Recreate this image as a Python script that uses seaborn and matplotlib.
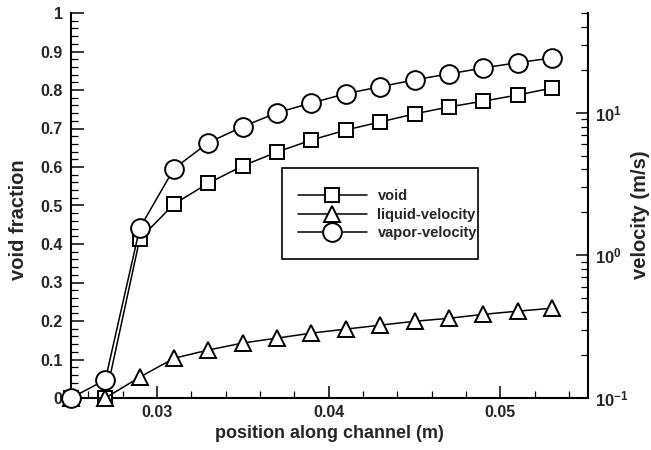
import numpy as np
import pandas as pd
import seaborn as sns
import matplotlib
matplotlib.use("Agg")
import matplotlib.pyplot as plt
from matplotlib.ticker import MultipleLocator, FuncFormatter, LogLocator, NullFormatter
from matplotlib.lines import Line2D
from matplotlib.patches import Rectangle

position = [0.025, 0.027, 0.029, 0.031, 0.033, 0.035, 0.037, 0.039,
            0.041, 0.043, 0.045, 0.047, 0.049, 0.051, 0.053]
void = [0.0, 0.0, 0.413, 0.504, 0.558, 0.603, 0.639, 0.670,
        0.696, 0.717, 0.738, 0.756, 0.771, 0.787, 0.805]
liquid_velocity = [0.1, 0.1, 0.140, 0.190, 0.217, 0.243, 0.263, 0.285,
                   0.304, 0.324, 0.345, 0.362, 0.386, 0.406, 0.426]
vapor_velocity = [0.1, 0.134, 1.55, 4.06, 6.17, 7.98, 10.0, 11.7,
                  13.6, 15.2, 17.0, 18.7, 20.6, 22.4, 24.2]
x_ticks = [0.03, 0.04, 0.05]
series_names = ["void", "liquid-velocity", "vapor-velocity"]

sns.set_style("ticks")
plt.rcParams['font.family'] = ['Liberation Sans', 'DejaVu Sans']
plt.rcParams['font.weight'] = 'bold'
plt.rcParams['mathtext.fontset'] = 'custom'
plt.rcParams['mathtext.rm'] = 'Liberation Sans:bold'
plt.rcParams['mathtext.bf'] = 'Liberation Sans:bold'
plt.rcParams['mathtext.it'] = 'Liberation Sans:bold'
plt.rcParams['mathtext.default'] = 'rm'

df = pd.DataFrame({"position": position, "void": void,
                   "liquid": liquid_velocity, "vapor": vapor_velocity})

W, H = 651, 450
fig = plt.figure(figsize=(W / 100, H / 100), dpi=100)
L, R, T, B = 71, 588, 13, 398
ax = fig.add_axes([L / W, 1 - B / H, (R - L) / W, (B - T) / H])
ax2 = ax.twinx()

common = dict(color="black", linewidth=1.1, markerfacecolor="white",
              markeredgecolor="black", markeredgewidth=1.4, clip_on=False)

sns.lineplot(data=df, x="position", y="void", marker="s", markersize=9.5,
             ax=ax, **common)
sns.lineplot(data=df, x="position", y="liquid", marker="^", markersize=11,
             ax=ax2, **common)
sns.lineplot(data=df, x="position", y="vapor", marker="o", markersize=13.5,
             ax=ax2, **common)

ax.set_xlim(0.025, 0.0551)
ax.set_ylim(0, 1)
ax2.set_yscale("log")
ax2.set_ylim(0.1, 50)

ax.xaxis.set_major_locator(plt.FixedLocator(x_ticks))
ax.xaxis.set_minor_locator(MultipleLocator(0.002))
ax.yaxis.set_major_locator(MultipleLocator(0.1))
ax.yaxis.set_minor_locator(MultipleLocator(0.02))
fmt = FuncFormatter(lambda v, p: f"{v:g}")
ax.xaxis.set_major_formatter(fmt)
ax.yaxis.set_major_formatter(fmt)

ax2.yaxis.set_major_locator(LogLocator(base=10, numticks=10))
ax2.yaxis.set_minor_locator(LogLocator(base=10, subs=np.arange(2, 10), numticks=10))
ax2.yaxis.set_minor_formatter(NullFormatter())
ax2.yaxis.set_major_formatter(FuncFormatter(lambda v, p: r"$10^{%d}$" % int(round(np.log10(v)))))

for a in (ax, ax2):
    a.tick_params(which="major", direction="in", length=9, width=1.1,
                  labelsize=11.5, color="black")
    a.tick_params(which="minor", direction="in", length=5, width=0.9, color="black")
    for s in a.spines.values():
        s.set_linewidth(1.5)
        s.set_color("black")
    a.spines["top"].set_visible(False)
ax.spines["right"].set_visible(False)
ax2.spines["left"].set_visible(False)
ax2.spines["bottom"].set_visible(False)
ax.tick_params(axis="x", pad=5)
ax.tick_params(axis="y", pad=6)
ax2.tick_params(axis="y", pad=5, labelsize=12)

for lbl in ax.get_xticklabels() + ax.get_yticklabels() + ax2.get_yticklabels():
    lbl.set_fontweight("bold")

ax.set_xlabel("")
ax.set_ylabel("")
ax2.set_ylabel("")
fig.text((L + R) / 2 / W + 0.0, 1 - 434 / H, "position along channel (m)",
         fontsize=13, fontweight="bold", ha="center", va="center")
fig.text(19 / W, 1 - 220 / H, "void fraction", rotation=90,
         fontsize=14.5, fontweight="bold", ha="center", va="center")
fig.text(641 / W, 1 - 215 / H, "velocity (m/s)", rotation=90,
         fontsize=14.5, fontweight="bold", ha="center", va="center")

handles = [
    Line2D([], [], color="black", lw=1.1, marker="s", markersize=9.5,
           markerfacecolor="white", markeredgewidth=1.4),
    Line2D([], [], color="black", lw=1.1, marker="^", markersize=11,
           markerfacecolor="white", markeredgewidth=1.4),
    Line2D([], [], color="black", lw=1.1, marker="o", markersize=13.5,
           markerfacecolor="white", markeredgewidth=1.4),
]
leg = ax2.legend(handles, series_names, loc="upper left",
                 bbox_to_anchor=((298 - L) / (R - L), (B - 189) / (B - T)),
                 frameon=False, handlelength=4.7, labelspacing=0.32,
                 borderpad=0, handletextpad=0.75, borderaxespad=0,
                 prop={"weight": "bold", "size": 10.5})
fig.add_artist(Rectangle((282 / W, 1 - 259 / H), 196 / W, 91 / H,
                         transform=fig.transFigure, fill=False,
                         edgecolor="black", linewidth=1.2))
for ln in ax.lines + ax2.lines:
    ln.set_zorder(3)

fig.savefig("out.png", dpi=100)
